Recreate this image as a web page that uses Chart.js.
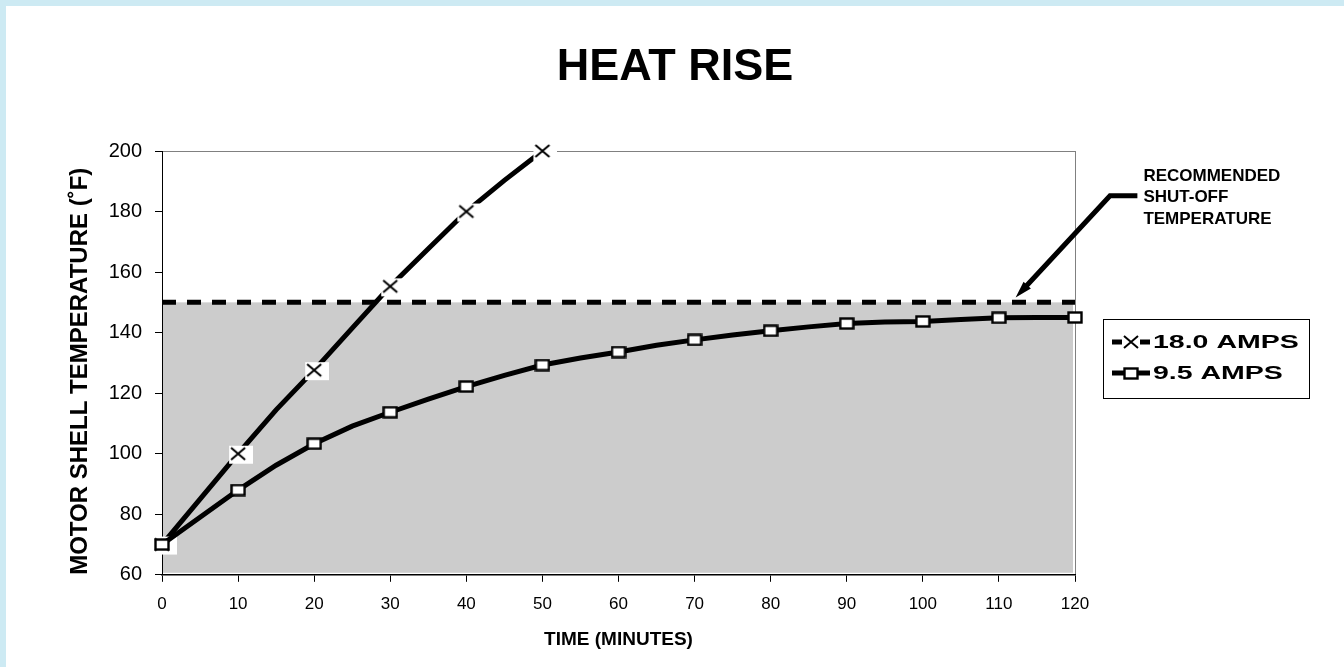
<!DOCTYPE html>
<html>
<head>
<meta charset="utf-8">
<title>Heat Rise</title>
<script src="https://cdn.jsdelivr.net/npm/chart.js@4.4.1/dist/chart.umd.min.js"></script>
<style>
    html, body { margin: 0; padding: 0; background: #fff; }
    #marco {
        position: absolute; left: 0; top: 0;
        width: 1344px; height: 667px;
        box-sizing: border-box;
        border-top: 6px solid #cdeaf3;
        border-left: 6px solid #cdeaf3;
        background: #fff;
    }
    #grafico { display: block; }
</style>
</head>
<body>
<div id="marco"><canvas id="grafico" width="1338" height="661"></canvas></div>
<script>
// Datos: minutos y temperatura del motor (°F)
const minutos  = [0, 5, 10, 15, 20, 25, 30, 35, 40, 45, 50, 55, 60, 65, 70, 75, 80, 85, 90, 95, 100, 105, 110, 115, 120];
const temp18A  = [70, 85, 100, 114.5, 127.6, 141.5, 155.3, 167.7, 180, 190.3, 200];
const temp95A  = [70, 79, 88, 96.2, 103.3, 109.1, 113.7, 118, 122.2, 125.9, 129.3, 131.6, 133.6, 135.8, 137.6,
                  139.2, 140.6, 141.9, 143, 143.5, 143.7, 144.3, 144.9, 145, 145];
const series   = ['18.0 AMPS', '9.5 AMPS'];
const tempCorte = 150;              // temperatura recomendada de corte
const rangoX = [0, 120, 10];        // min, max, paso
const rangoY = [60, 200, 20];
const notaCorte = ['RECOMMENDED', 'SHUT-OFF', 'TEMPERATURE'];
// Flecha de la nota (en unidades del gráfico): punta, codo y final
const flecha = [[112.2, 151.6], [124.6, 185.2], [128.2, 185.2]];

const fuente = "'Liberation Sans', Arial, sans-serif";

// Marcadores tipo Excel
function marcaCruz(conFondo){
    const c = document.createElement('canvas');
    c.width = 30; c.height = 22;
    const g = c.getContext('2d');
    if(conFondo){
        g.fillStyle = '#fff';
        g.fillRect(6, 3, 24, 18);
    }
    g.strokeStyle = '#000';
    g.lineWidth = 2;
    g.beginPath();
    g.moveTo(8, 5);  g.lineTo(22, 17);
    g.moveTo(22, 5); g.lineTo(8, 17);
    g.stroke();
    return c;
}
function marcaCuadro(){
    const c = document.createElement('canvas');
    c.width = 16; c.height = 13;
    const g = c.getContext('2d');
    g.fillStyle = '#fff';
    g.fillRect(1, 1, 14, 11);
    g.strokeStyle = '#000';
    g.lineWidth = 2.4;
    g.strokeRect(1.5, 1.5, 13, 10);
    return c;
}
const cruz      = marcaCruz(true);
const cruzLey   = marcaCruz(false);
const cuadro    = marcaCuadro();

const radioMarca = ctx => (minutos[ctx.dataIndex] % 10 === 0) ? 6 : 0;

// Zona gris bajo la temperatura de corte
const zonaGris = {
    id: 'zonaGris',
    beforeDraw(chart){
        const {ctx, chartArea: a, scales: {y}} = chart;
        const yTop = y.getPixelForValue(tempCorte);
        const yBot = y.getPixelForValue(rangoY[0]);
        ctx.save();
        ctx.fillStyle = '#cccccc';
        ctx.fillRect(a.left, yTop, a.right - a.left - 2, yBot - yTop - 2);
        ctx.restore();
    }
};

// Nota con flecha
const notaFlecha = {
    id: 'notaFlecha',
    afterDraw(chart){
        const {ctx, scales: {x, y}} = chart;
        const p = flecha.map(f => ({x: x.getPixelForValue(f[0]), y: y.getPixelForValue(f[1])}));
        const punta = p[0], codo = p[1], fin = p[2];
        const ang = Math.atan2(punta.y - codo.y, punta.x - codo.x);
        const largo = 17, ancho = 5;
        const base = {x: punta.x - largo * Math.cos(ang), y: punta.y - largo * Math.sin(ang)};

        ctx.save();
        ctx.strokeStyle = '#000';
        ctx.fillStyle = '#000';
        ctx.lineWidth = 5;
        ctx.lineJoin = 'miter';
        ctx.beginPath();
        ctx.moveTo(fin.x, fin.y);
        ctx.lineTo(codo.x, codo.y);
        ctx.lineTo(base.x + 2 * Math.cos(ang), base.y + 2 * Math.sin(ang));
        ctx.stroke();

        ctx.beginPath();
        ctx.moveTo(punta.x, punta.y);
        ctx.lineTo(base.x - ancho * Math.sin(ang), base.y + ancho * Math.cos(ang));
        ctx.lineTo(base.x + ancho * Math.sin(ang), base.y - ancho * Math.cos(ang));
        ctx.closePath();
        ctx.fill();

        ctx.font = 'bold 17px ' + fuente;
        ctx.textAlign = 'left';
        ctx.textBaseline = 'middle';
        notaCorte.forEach((t, i) => {
            ctx.fillText(t, fin.x + 6, codo.y + 2 + (i - 1) * 21.5);
        });
        ctx.restore();
    }
};

// Leyenda con recuadro
const leyendaCaja = {
    id: 'leyendaCaja',
    afterDraw(chart){
        const {ctx, chartArea: a} = chart;
        const izq = a.right + 28, arriba = a.top + 168, w = 206, h = 79;
        ctx.save();
        ctx.strokeStyle = '#000';
        ctx.lineWidth = 1;
        ctx.strokeRect(izq + 0.5, arriba + 0.5, w, h);

        const filas = [
            {texto: series[0], marca: cruzLey, hueco: 9},
            {texto: series[1], marca: cuadro,  hueco: 0}
        ];
        filas.forEach((f, i) => {
            const cy = arriba + 23 + i * 31;
            const cx = izq + 28;
            ctx.lineWidth = 5;
            ctx.beginPath();
            ctx.moveTo(izq + 9, cy);  ctx.lineTo(cx - f.hueco, cy);
            ctx.moveTo(cx + f.hueco, cy); ctx.lineTo(izq + 47, cy);
            ctx.stroke();
            ctx.drawImage(f.marca, Math.round(cx - f.marca.width / 2), Math.round(cy - f.marca.height / 2));

            ctx.save();
            ctx.translate(izq + 50, cy + 1);
            ctx.scale(1.5, 1);
            ctx.font = 'bold 19px ' + fuente;
            ctx.fillStyle = '#000';
            ctx.textAlign = 'left';
            ctx.textBaseline = 'middle';
            ctx.fillText(f.texto, 0, 0);
            ctx.restore();
        });
        ctx.restore();
    }
};

const grafico = new Chart(document.getElementById('grafico'), {
    type: 'line',
    data: {
        datasets: [{
            label: series[1],
            data: minutos.map((m, i) => ({x: m, y: temp95A[i]})),
            borderColor: '#000',
            borderWidth: 5,
            tension: 0,
            pointStyle: cuadro,
            pointRadius: radioMarca,
            clip: false
        }, {
            label: series[0],
            data: temp18A.map((t, i) => ({x: minutos[i], y: t})),
            borderColor: '#000',
            borderWidth: 5,
            tension: 0,
            pointStyle: cruz,
            pointRadius: radioMarca,
            clip: false
        }, {
            label: 'corte',
            data: [{x: rangoX[0], y: tempCorte}, {x: rangoX[1], y: tempCorte}],
            borderColor: '#000',
            borderWidth: 5,
            borderDash: [14, 11],
            pointRadius: 0,
            clip: false
        }]
    },
    options: {
        responsive: false,
        animation: false,
        events: [],
        layout: { padding: { left: 0, right: 0, top: 0, bottom: 16 } },
        plugins: {
            legend:  { display: false },
            tooltip: { enabled: false },
            title: {
                display: true,
                text: 'HEAT RISE',
                color: '#000',
                font: { family: fuente, size: 45, weight: 'bold' },
                padding: { top: 35, bottom: 56 }
            }
        },
        scales: {
            x: {
                type: 'linear',
                min: rangoX[0], max: rangoX[1],
                ticks:  { stepSize: rangoX[2], color: '#000', font: { family: fuente, size: 17 }, padding: 12 },
                grid:   {
                    color: ctx => (ctx.tick && ctx.tick.value === rangoX[1]) ? '#808080' : 'transparent',
                    tickColor: '#000', tickLength: 7
                },
                border: { color: '#000', width: 1.5 },
                title:  {
                    display: true, text: 'TIME (MINUTES)', color: '#000',
                    font: { family: fuente, size: 19, weight: 'bold' },
                    padding: { top: 2, bottom: 0 }
                }
            },
            y: {
                min: rangoY[0], max: rangoY[1],
                ticks:  { stepSize: rangoY[2], color: '#000', font: { family: fuente, size: 20 }, padding: 13 },
                grid:   {
                    color: ctx => (ctx.tick && ctx.tick.value === rangoY[1]) ? '#808080' : 'transparent',
                    tickColor: '#000', tickLength: 7
                },
                border: { color: '#000', width: 1 },
                title:  {
                    display: true, text: 'MOTOR SHELL TEMPERATURE (˚F)', color: '#000',
                    align: 'start',
                    font: { family: fuente, size: 24, weight: 'bold' },
                    padding: { top: 60, bottom: 0 }
                },
                afterFit: s => { s.width = 156; }
            },
            // eje vacío a la derecha: reserva el espacio de la leyenda y la nota
            margenDer: {
                type: 'linear',
                position: 'right',
                grid:   { display: false },
                border: { display: false },
                ticks:  { display: false },
                afterFit: s => { s.width = 269; }
            }
        }
    },
    plugins: [zonaGris, notaFlecha, leyendaCaja]
});
</script>
</body>
</html>
